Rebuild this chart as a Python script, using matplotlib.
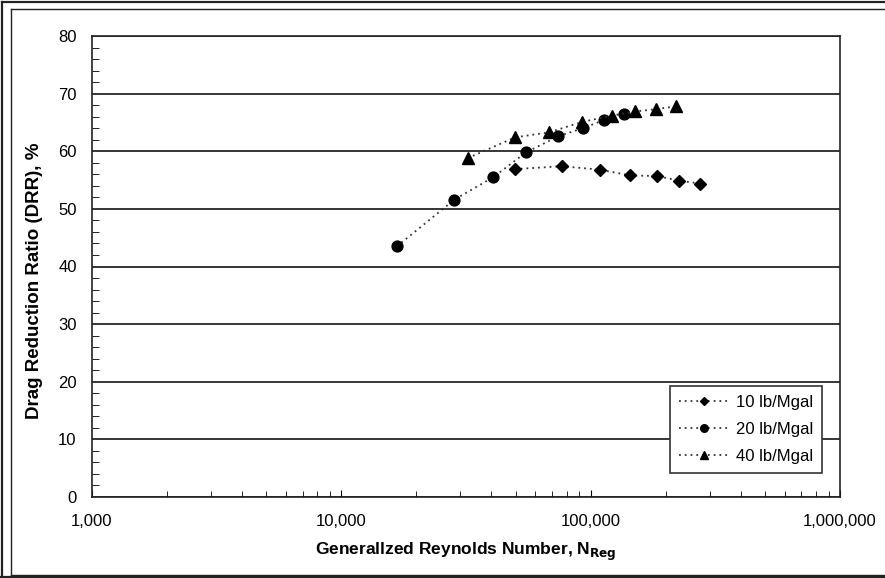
import matplotlib
matplotlib.use("Agg")
from matplotlib import pyplot as plt
from matplotlib.lines import Line2D
from matplotlib.ticker import FixedLocator, FuncFormatter, LogLocator, MultipleLocator

plt.rcParams['font.family'] = ['Liberation Sans', 'DejaVu Sans']

# Drag reduction ratio vs generalized Reynolds number
re_10 = [49700, 76700, 109000, 143800, 184500, 226000, 274500]
drr_10 = [56.9, 57.4, 56.8, 55.8, 55.7, 54.9, 54.4]

re_20 = [16700, 28400, 40700, 55000, 74200, 92900, 113100, 136100]
drr_20 = [43.5, 51.6, 55.5, 59.8, 62.6, 64.0, 65.4, 66.5]

re_40 = [32100, 49700, 68300, 92600, 122200, 150700, 182800, 219900]
drr_40 = [58.8, 62.4, 63.3, 65.1, 66.2, 66.9, 67.3, 67.8]

labels = ["10 lb/Mgal", "20 lb/Mgal", "40 lb/Mgal"]

W, H = 885, 578
fig = plt.figure(figsize=(W / 100, H / 100), dpi=100)
ax = fig.add_axes([92 / W, 1 - 497 / H, (840 - 92) / W, (497 - 36) / H])

line_kw = dict(color="#333333", linestyle=(0, (1, 2.2)), linewidth=1.3)
ax.plot(re_10, drr_10, marker="D", markersize=6.3, markerfacecolor="black",
        markeredgecolor="black", label=labels[0], **line_kw)
ax.plot(re_20, drr_20, marker="o", markersize=7.8, markerfacecolor="black",
        markeredgecolor="black", label=labels[1], **line_kw)
ax.plot(re_40, drr_40, marker="^", markersize=8, markerfacecolor="black",
        markeredgecolor="black", label=labels[2], **line_kw)

ax.set_xscale("log")
ax.set_xlim(1000, 1000000)
ax.set_ylim(0, 80)
ax.xaxis.set_major_locator(FixedLocator([1e3, 1e4, 1e5, 1e6]))
ax.xaxis.set_minor_locator(LogLocator(base=10, subs=range(2, 10), numticks=20))
ax.xaxis.set_major_formatter(FuncFormatter(lambda v, p: f"{int(round(v)):,}"))
ax.xaxis.set_minor_formatter(FuncFormatter(lambda v, p: ""))
ax.yaxis.set_major_locator(MultipleLocator(10))
ax.yaxis.set_minor_locator(MultipleLocator(2))

ax.grid(axis="y", which="major", color="black", linewidth=1.1)
ax.set_axisbelow(True)
for s in ax.spines.values():
    s.set_linewidth(1.2)
    s.set_color("#222222")

ax.tick_params(axis="both", which="both", direction="in", labelsize=12,
               colors="black")
ax.tick_params(axis="x", which="major", length=5, pad=12)
ax.tick_params(axis="x", which="minor", length=4)
ax.tick_params(axis="y", which="major", length=0, pad=11)
ax.tick_params(axis="y", which="minor", length=5)

ax.set_xlabel(r"Generallzed Reynolds Number, N$_{\mathbf{Reg}}$",
              fontsize=12.5, fontweight="bold", labelpad=9)
ax.set_ylabel("Drag Reduction Ratio (DRR), %", fontsize=13.5,
              fontweight="bold")
ax.yaxis.set_label_coords(-0.066, 0.47)

leg = ax.legend(loc="lower right", bbox_to_anchor=(0.976, 0.052),
                fontsize=12, frameon=True, fancybox=False, markerscale=0.7,
                handlelength=3.0, borderpad=0.55, labelspacing=0.72,
                handletextpad=0.4, borderaxespad=0)
leg.get_frame().set_edgecolor("#333333")
leg.get_frame().set_linewidth(1.2)
leg.get_frame().set_alpha(1)

# double frame around the figure
def px_line(x0, y0, x1, y1, lw):
    fig.add_artist(Line2D([x0 / W, x1 / W], [1 - y0 / H, 1 - y1 / H],
                          transform=fig.transFigure, color="#222222",
                          linewidth=lw))

px_line(1.5, 1.5, 890, 1.5, 1.6)
px_line(1.5, 1.5, 1.5, 577, 1.6)
px_line(0, 577, 890, 577, 1.6)
px_line(11, 9, 890, 9, 1.0)
px_line(11, 9, 11, 574.5, 1.0)
px_line(11, 574.5, 890, 574.5, 1.0)

fig.savefig("out.png", dpi=100)
